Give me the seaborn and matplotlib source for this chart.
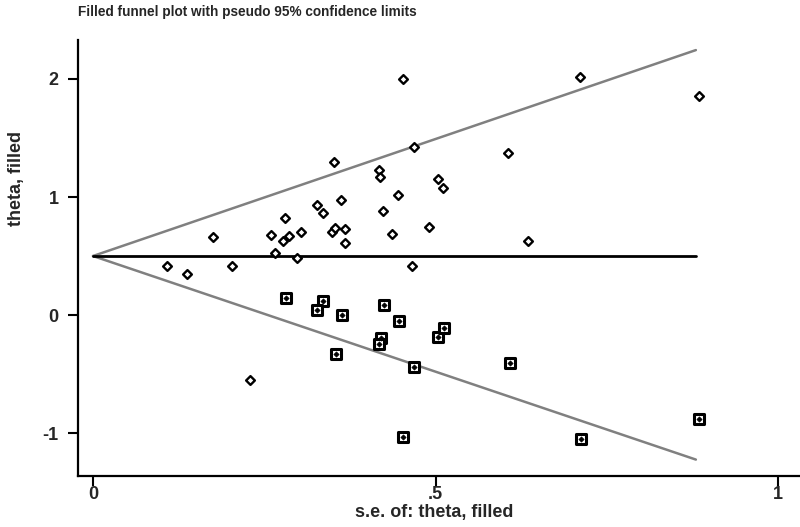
import numpy as np
import pandas as pd
import matplotlib
matplotlib.use("Agg")
import matplotlib.pyplot as plt
import seaborn as sns

# observed studies (hollow diamonds): standard error and theta
obs_se = [0.108, 0.137, 0.175, 0.203, 0.229, 0.260, 0.265, 0.277, 0.280, 0.286,
          0.298, 0.303, 0.327, 0.335, 0.349, 0.352, 0.353, 0.362, 0.368, 0.368,
          0.417, 0.419, 0.424, 0.437, 0.445, 0.452, 0.465, 0.468, 0.491, 0.503,
          0.511, 0.606, 0.635, 0.711, 0.884]
obs_theta = [0.418, 0.347, 0.658, 0.418, -0.548, 0.675, 0.525, 0.630, 0.825, 0.672,
             0.480, 0.706, 0.929, 0.867, 0.703, 1.300, 0.734, 0.972, 0.731, 0.613,
             1.229, 1.167, 0.884, 0.689, 1.017, 2.000, 0.418, 1.420, 0.748, 1.153,
             1.079, 1.376, 0.630, 2.017, 1.853]

# imputed (filled) studies, drawn as boxed markers
fill_se = [0.282, 0.336, 0.327, 0.364, 0.425, 0.446, 0.420, 0.418, 0.354, 0.469,
           0.453, 0.503, 0.513, 0.608, 0.885, 0.712]
fill_theta = [0.147, 0.116, 0.040, -0.003, 0.085, -0.048, -0.195, -0.249, -0.331, -0.438,
              -1.034, -0.184, -0.110, -0.407, -0.884, -1.048]

# pseudo 95% limits and pooled estimate line
ci_se = [0.0, 0.88]
ci_upper = [0.5, 2.245]
ci_lower = [0.5, -1.225]
pooled = [0.5, 0.5]

xticks = [0, 0.5, 1]
xtick_labels = ["0", ".5", "1"]
yticks = [-1, 0, 1, 2]
ytick_labels = ["-1", "0", "1", "2"]

sns.set_style("ticks")
plt.rcParams["font.family"] = ["Liberation Sans", "DejaVu Sans"]

fig = plt.figure(figsize=(8, 5.27), dpi=100)
ax = fig.add_axes([0.0975, 0.0968, 0.9025, 0.8272])

sns.lineplot(x=ci_se, y=ci_upper, ax=ax, color="#808080", lw=1.8)
sns.lineplot(x=ci_se, y=ci_lower, ax=ax, color="#808080", lw=1.8)
sns.lineplot(x=ci_se, y=pooled, ax=ax, color="black", lw=2)

sns.scatterplot(x=obs_se, y=obs_theta, ax=ax, marker="D", s=20,
                facecolor="white", edgecolor="black", linewidth=1.7, zorder=3)
sns.scatterplot(x=fill_se, y=fill_theta, ax=ax, marker="s", s=42,
                facecolor="white", edgecolor="black", linewidth=2.2, zorder=3)
sns.scatterplot(x=fill_se, y=fill_theta, ax=ax, marker="D", s=7,
                facecolor="black", edgecolor="black", linewidth=0.5, zorder=4)

ax.set_xlim(-0.0219, 1.032)
ax.set_ylim(-1.364, 2.33)
ax.set_xticks(xticks)
ax.set_xticklabels(xtick_labels)
ax.set_yticks(yticks)
ax.set_yticklabels(ytick_labels)
ax.tick_params(axis="both", length=7, width=1.5, labelsize=13, color="black")
ax.tick_params(axis="x", pad=0)
ax.tick_params(axis="y", pad=7)
for lab in ax.get_xticklabels() + ax.get_yticklabels():
    lab.set_fontweight("bold")

sns.despine(ax=ax)
ax.spines["left"].set_linewidth(1.6)
ax.spines["bottom"].set_linewidth(1.6)
ax.spines["left"].set_color("black")
ax.spines["bottom"].set_color("black")

ax.set_xlabel("s.e. of: theta, filled", fontsize=13, fontweight="bold")
ax.set_ylabel("theta, filled", fontsize=13, fontweight="bold")
ax.xaxis.set_label_coords(0.494, -0.064)
ax.yaxis.set_label_coords(-0.073, 0.683)

fig.text(0.0975, 0.977, "Filled funnel plot with pseudo 95% confidence limits",
         fontsize=9.8, fontweight="bold", va="center", ha="left")

fig.savefig("out.png", dpi=100)
